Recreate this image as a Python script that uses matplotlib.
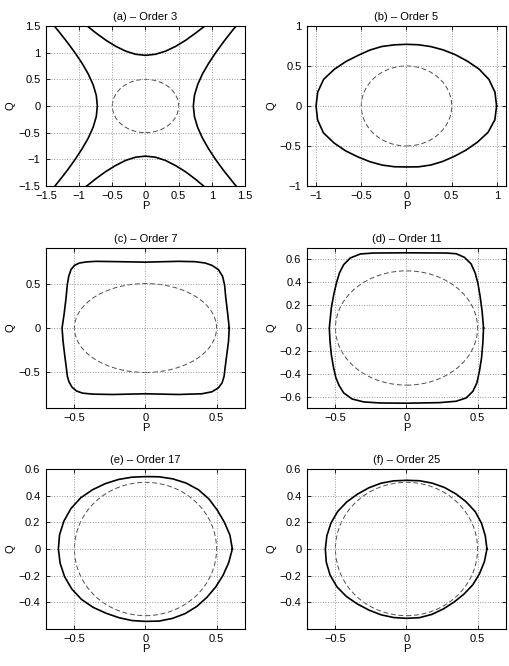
import numpy as np
import matplotlib.pyplot as plt
from matplotlib.patches import Circle
from matplotlib.ticker import FuncFormatter

plt.rcParams['font.family'] = ['Liberation Sans', 'DejaVu Sans']
plt.rcParams['font.size'] = 8

titles = ['(a) \u2013 Order 3', '(b) \u2013 Order 5', '(c) \u2013 Order 7',
          '(d) \u2013 Order 11', '(e) \u2013 Order 17', '(f) \u2013 Order 25']
circle_r = 0.5  # dashed reference circle

## (a) order 3 : four open branches
a_top_P = [-1.0, -0.9, -0.75, -0.6, -0.45, -0.3, -0.15, 0, 0.15, 0.3, 0.45, 0.6, 0.75, 0.9, 1.0]
a_top_Q = [1.626, 1.52, 1.372, 1.236, 1.12, 1.029, 0.97, 0.95, 0.97, 1.027, 1.115, 1.228, 1.362, 1.505, 1.61]
a_bot_P = [-1.0, -0.9, -0.75, -0.6, -0.45, -0.3, -0.15, 0, 0.15, 0.3, 0.45, 0.6, 0.75, 0.9, 1.0]
a_bot_Q = [-1.62, -1.515, -1.365, -1.23, -1.115, -1.02, -0.96, -0.94, -0.96, -1.02, -1.115, -1.23, -1.37, -1.525, -1.63]
a_left_Q = [-1.6, -1.4, -1.2, -1.0, -0.8, -0.6, -0.4, -0.2, 0, 0.2, 0.4, 0.6, 0.8, 1.0, 1.2, 1.4, 1.6]
a_left_P = [-1.43, -1.30, -1.175, -1.06, -0.955, -0.862, -0.79, -0.742, -0.726, -0.742, -0.79, -0.863, -0.956, -1.064, -1.182, -1.309, -1.441]
a_right_Q = [-1.6, -1.4, -1.2, -1.0, -0.8, -0.6, -0.4, -0.2, 0, 0.2, 0.4, 0.6, 0.8, 1.0, 1.2, 1.4, 1.6]
a_right_P = [1.43, 1.30, 1.172, 1.055, 0.95, 0.858, 0.786, 0.738, 0.721, 0.738, 0.786, 0.858, 0.952, 1.058, 1.175, 1.300, 1.432]

## (b), (e), (f): radius of the closed curve read every 10 degrees (0..350)
angles_deg = [0, 10, 20, 30, 40, 50, 60, 70, 80, 90, 100, 110, 120, 130, 140, 150, 160, 170,
              180, 190, 200, 210, 220, 230, 240, 250, 260, 270, 280, 290, 300, 310, 320, 330, 340, 350]
b_r = [0.996, 0.993, 0.970, 0.925, 0.875, 0.838, 0.810, 0.790, 0.777, 0.771, 0.776, 0.792, 0.808, 0.828, 0.869, 0.920, 0.975, 0.997,
       1.000, 0.998, 0.978, 0.925, 0.875, 0.832, 0.805, 0.786, 0.771, 0.762, 0.772, 0.785, 0.800, 0.822, 0.858, 0.905, 0.960, 0.992]
e_r = [0.611, 0.603, 0.590, 0.583, 0.583, 0.580, 0.571, 0.560, 0.550, 0.543, 0.547, 0.555, 0.566, 0.580, 0.596, 0.606, 0.611, 0.614,
       0.613, 0.610, 0.606, 0.599, 0.588, 0.572, 0.556, 0.548, 0.545, 0.543, 0.549, 0.554, 0.559, 0.562, 0.564, 0.570, 0.580, 0.594]
f_r = [0.566, 0.563, 0.562, 0.559, 0.549, 0.540, 0.533, 0.526, 0.520, 0.515, 0.519, 0.525, 0.530, 0.537, 0.549, 0.560, 0.566, 0.569,
       0.571, 0.573, 0.572, 0.566, 0.553, 0.538, 0.529, 0.525, 0.522, 0.520, 0.523, 0.522, 0.519, 0.520, 0.527, 0.538, 0.546, 0.556]

## (c) order 7
c_P = [0.589, 0.579, 0.565, 0.556, 0.542, 0.513, 0.467, 0.420, 0.349, 0.232, -0.003, -0.184, -0.348, -0.418, -0.465, -0.500, -0.524, -0.540, -0.550, -0.559, -0.573, -0.587,
       -0.580, -0.569, -0.557, -0.550, -0.538, -0.517, -0.484, -0.442, -0.371, -0.231, -0.003, 0.232, 0.396, 0.467, 0.513, 0.539, 0.553, 0.560, 0.572, 0.584, 0.589]
c_Q = [0, 0.151, 0.338, 0.488, 0.582, 0.657, 0.705, 0.731, 0.746, 0.750, 0.741, 0.746, 0.750, 0.743, 0.731, 0.705, 0.657, 0.582, 0.488, 0.338, 0.151, 0,
       -0.150, -0.299, -0.448, -0.542, -0.606, -0.666, -0.710, -0.733, -0.744, -0.748, -0.740, -0.748, -0.740, -0.718, -0.673, -0.617, -0.542, -0.448, -0.299, -0.150, 0]

## (d) order 11
d_P = [0.542, 0.532, 0.518, 0.502, 0.483, 0.455, 0.408, 0.349, 0.279, -0.003, -0.231, -0.324, -0.395, -0.442, -0.472, -0.493, -0.512, -0.529, -0.543,
       -0.538, -0.529, -0.515, -0.498, -0.475, -0.442, -0.383, -0.301, -0.184, 0.0, 0.232, 0.349, 0.420, 0.467, 0.495, 0.513, 0.528, 0.537, 0.542]
d_Q = [0, 0.146, 0.277, 0.394, 0.481, 0.560, 0.618, 0.650, 0.656, 0.658, 0.656, 0.648, 0.613, 0.554, 0.481, 0.394, 0.292, 0.175, 0,
       -0.117, -0.233, -0.335, -0.431, -0.501, -0.568, -0.621, -0.647, -0.656, -0.658, -0.653, -0.641, -0.612, -0.554, -0.481, -0.379, -0.262, -0.131, 0]

def polar_curve(r):
    t = np.deg2rad(angles_deg + [360])
    r = np.array(r + [r[0]])
    return r * np.cos(t), r * np.sin(t)

curves = [
    [(a_top_P, a_top_Q), (a_bot_P, a_bot_Q), (a_left_P, a_left_Q), (a_right_P, a_right_Q)],
    [polar_curve(b_r)],
    [(c_P, c_Q)],
    [(d_P, d_Q)],
    [polar_curve(e_r)],
    [polar_curve(f_r)],
]
xlims = [(-1.5, 1.5), (-1.1, 1.1), (-0.7, 0.7), (-0.7, 0.7), (-0.7, 0.7), (-0.7, 0.7)]
ylims = [(-1.5, 1.5), (-1, 1), (-0.9, 0.9), (-0.7, 0.7), (-0.6, 0.6), (-0.6, 0.6)]
xticks = [[-1.5, -1, -0.5, 0, 0.5, 1, 1.5], [-1, -0.5, 0, 0.5, 1], [-0.5, 0, 0.5], [-0.5, 0, 0.5], [-0.5, 0, 0.5], [-0.5, 0, 0.5]]
yticks = [[-1.5, -1, -0.5, 0, 0.5, 1, 1.5], [-1, -0.5, 0, 0.5, 1], [-0.5, 0, 0.5],
          [-0.6, -0.4, -0.2, 0, 0.2, 0.4, 0.6], [-0.4, -0.2, 0, 0.2, 0.4, 0.6], [-0.4, -0.2, 0, 0.2, 0.4, 0.6]]

# axes boxes in pixels (left, top) of a 510x666 figure, each 199 x 160
W, H = 510, 666
lefts = [46, 307]
tops = [26, 248, 469]

fig = plt.figure(figsize=(5.1, 6.66), dpi=100)
fmt = FuncFormatter(lambda v, pos: ('%g' % v).replace('-', '\u2212'))
for i in range(6):
    l = lefts[i % 2]
    t = tops[i // 2]
    ax = fig.add_axes([l / W, 1 - (t + 160) / H, 199 / W, 160 / H])
    for P, Q in curves[i]:
        ax.plot(P, Q, color='black', lw=1.2, solid_joinstyle='round')
    ax.add_patch(Circle((0, 0), circle_r, fill=False, ec='0.3', lw=0.7, ls=(0, (5, 2.8))))
    ax.set_xlim(xlims[i])
    ax.set_ylim(ylims[i])
    ax.set_xticks(xticks[i])
    ax.set_yticks(yticks[i])
    ax.xaxis.set_major_formatter(fmt)
    ax.yaxis.set_major_formatter(fmt)
    ax.grid(True, ls=':', color='0.6', lw=0.7)
    ax.tick_params(direction='in', top=True, right=True, length=3, width=0.6, labelsize=8)
    ax.tick_params(axis='x', pad=3.5)
    ax.tick_params(axis='y', pad=4)
    for s in ax.spines.values():
        s.set_linewidth(0.8)
    ax.set_title(titles[i], fontsize=8, pad=4)
    ax.set_xlabel('P', fontsize=8, labelpad=0)
    ax.set_ylabel('Q', fontsize=8, labelpad=2)

plt.savefig('out.png', dpi=100)
